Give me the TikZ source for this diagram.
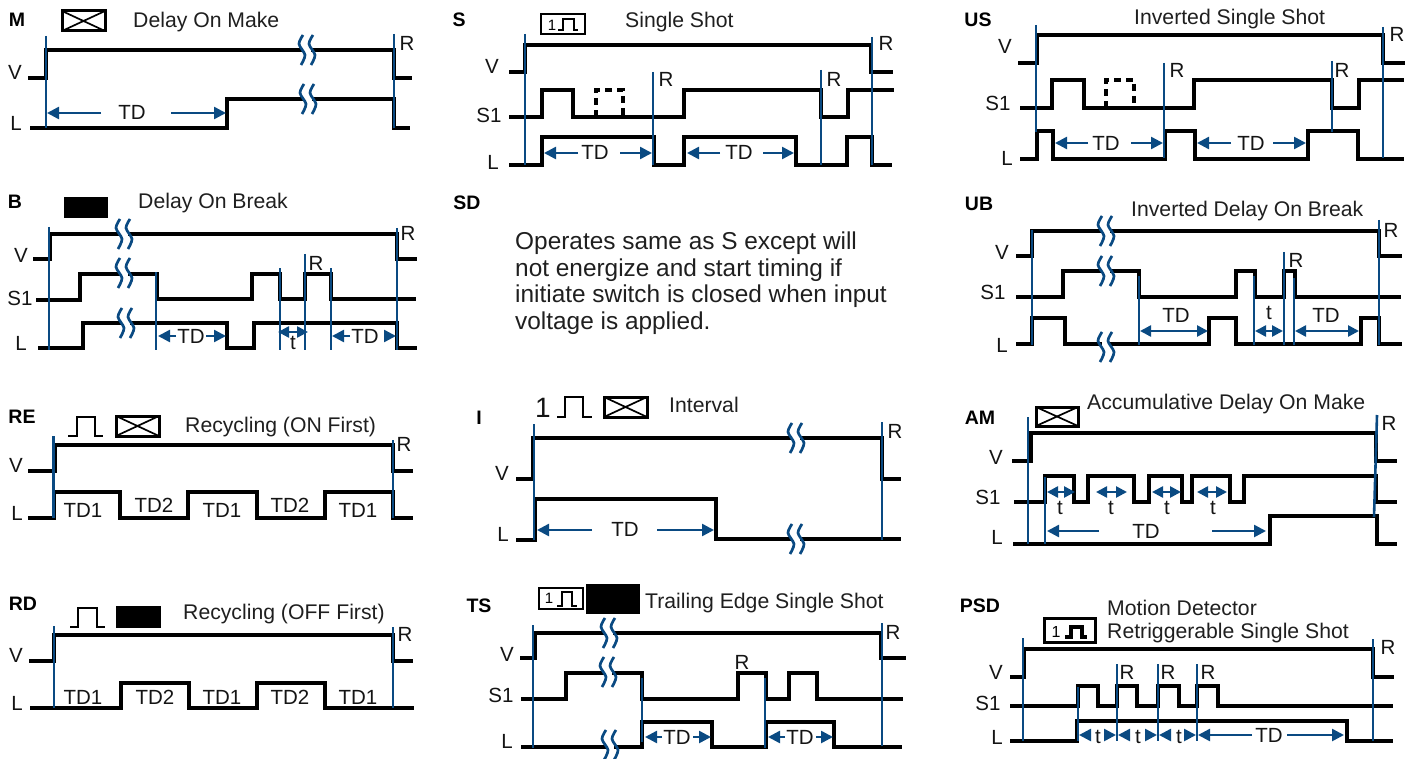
\documentclass[tikz,border=0pt]{standalone}
\usepackage{fontspec}
\setmainfont{Liberation Sans}
\usetikzlibrary{arrows.meta}
\definecolor{relayblue}{HTML}{0A4A82}
\tikzset{
  sig/.style={line width=4.6pt,black,miter limit=10},
  dashsig/.style={line width=4pt,black,dash pattern=on 7pt off 5pt},
  bl/.style={line width=2.6pt,relayblue},
  dimr/.style={line width=2.5pt,relayblue,-{Triangle[length=12pt,width=12pt]}},
  dimb/.style={line width=2.5pt,relayblue,{Triangle[length=11pt,width=11pt]}-{Triangle[length=11pt,width=11pt]}},
  wave/.style={line width=2.7pt,relayblue},
  lbl/.style={font=\fontsize{20.5}{24}\selectfont,inner sep=0pt,anchor=center,text=black!92},
  ttl/.style={font=\fontsize{21.2}{24}\selectfont,inner sep=0pt,anchor=west,text=black!88,yshift=-2pt},
  code/.style={font=\fontsize{19.5}{23}\bfseries\selectfont,inner sep=0pt,anchor=center},
  boxx/.style={line width=3pt,black},
  xline/.style={line width=1.7pt,black},
  boxs/.style={line width=2pt,black},
  pls/.style={line width=2.5pt,black},
  plsthin/.style={line width=2pt,black},
  one/.style={font=\fontsize{15}{18}\selectfont,inner sep=0pt,anchor=center},
}
\newcommand\brk[2]{%
  \fill[white] (#1-4,#2-6) rectangle (#1+4,#2+6);
  \foreach \d in {-5,5}{\draw[wave] plot[smooth] coordinates {(#1+\d+1,#2-15) (#1+\d-3,#2-6) (#1+\d+3,#2+5) (#1+\d-1,#2+15)};}
}
\newcommand\xbox[4]{%
  \draw[boxx] (#1,#3) rectangle (#2,#4);
  \draw[xline] (#1,#3) -- (#2,#4) (#1,#4) -- (#2,#3);
}
\begin{document}
\begin{tikzpicture}[x=1pt,y=-1pt]
\useasboundingbox (0,0) rectangle (1415,759);
% ---------- M
\node[code] (mt) at (17,20) {M};
\xbox{62}{105}{11}{31}
\node[ttl] (mn) at (133,20) {Delay On Make};
\draw[sig] (28,78) -- (46,78) -- (46,50) -- (394,50) -- (394,78) -- (412,78);
\draw[sig] (30,128) -- (227,128) -- (227,99) -- (394,99) -- (394,128) -- (410,128);
\draw[bl] (46,36) -- (46,128);
\draw[bl] (394,34) -- (394,128);
\draw[dimr] (101,113) -- (47,113);
\draw[dimr] (171,113) -- (226,113);
\brk{307}{50}\brk{308}{99}
\node[lbl] (mV) at (15,72) {V};
\node[lbl] (mL) at (16,123) {L};
\node[lbl] (mTD) at (132,112) {TD};
\node[lbl] (mR) at (407,43) {R};
% ---------- B
\node[code] (bt) at (15,202) {B};
\fill[black] (64,197) rectangle (108,218);
\node[ttl] (bn) at (138,201) {Delay On Break};
\draw[sig] (33,259) -- (50,259) -- (50,234) -- (397,234) -- (397,259) -- (417,259);
\draw[sig] (36,300) -- (80,300) -- (80,274) -- (157,274) -- (157,299) -- (252,299) -- (252,274) -- (280,274) -- (280,299) -- (305,299) -- (305,274) -- (331,274) -- (331,299) -- (416,299);
\draw[sig] (38,348) -- (83,348) -- (83,323) -- (227,323) -- (227,348) -- (254,348) -- (254,323) -- (397,323) -- (397,348) -- (417,348);
\draw[bl] (49,227) -- (49,350);
\draw[bl] (397,228) -- (397,350);
\draw[bl] (156,272) -- (156,350);
\draw[bl] (280,268) -- (280,350);
\draw[bl] (305,254) -- (305,350);
\draw[bl] (331,268) -- (331,350);
\draw[dimr] (176,336) -- (158,336);
\draw[dimr] (206,336) -- (226,336);
\draw[dimb] (278,332) -- (308,332);
\draw[dimr] (350,336) -- (332,336);
\draw[dimr] (384,336) -- (396,336);
\brk{124}{234}\brk{124}{273}\brk{126}{323}
\node[lbl] (bV) at (21,255) {V};
\node[lbl] (bS) at (20,298) {S1};
\node[lbl] (bL) at (21,343) {L};
\node[lbl] (bTD) at (191,336) {TD};
\node[lbl] (bt1) at (293,343) {t};
\node[lbl] (bTD2) at (365,336) {TD};
\node[lbl] (bR) at (316,263) {R};
\node[lbl] (bR2) at (408,233) {R};
% ---------- S
\node[code] (st) at (459,20) {S};
\draw[boxs] (541,14) rectangle (585,34);
\node[one] (s1b) at (552,25) {1};
\draw[pls] (558,30) -- (563,30) -- (563,19) -- (574,19) -- (574,30) -- (578,30);
\node[ttl] (sn) at (625,20) {Single Shot};
\draw[sig] (509,72) -- (525,72) -- (525,45) -- (871,45) -- (871,72) -- (893,72);
\draw[sig] (509,117) -- (542,117) -- (542,90) -- (573,90) -- (573,117) -- (684,117) -- (684,90) -- (821,90) -- (821,117) -- (848,117) -- (848,90) -- (894,90);
\draw[dashsig] (596,117) -- (596,90) -- (623,90) -- (623,117);
\draw[sig] (509,165) -- (542,165) -- (542,137) -- (654,137) -- (654,165) -- (684,165) -- (684,137) -- (796,137) -- (796,165) -- (847,165) -- (847,137) -- (872,137) -- (872,165) -- (892,165);
\draw[bl] (525,34) -- (525,165);
\draw[bl] (872,37) -- (872,165);
\draw[bl] (653,72) -- (653,165);
\draw[bl] (821,70) -- (821,165);
\draw[dimr] (578,153) -- (544,153);
\draw[dimr] (620,153) -- (652,153);
\draw[dimr] (720,153) -- (687,153);
\draw[dimr] (763,153) -- (794,153);
\node[lbl] (sV) at (492,66) {V};
\node[lbl] (sS) at (489,115) {S1};
\node[lbl] (sL) at (493,162) {L};
\node[lbl] (sTD) at (595,152) {TD};
\node[lbl] (sTD2) at (739,152) {TD};
\node[lbl] (sR) at (886,43) {R};
\node[lbl] (sR2) at (666,79) {R};
\node[lbl] (sR3) at (834,79) {R};
% ---------- SD
\node[code] (sdt) at (467,203) {SD};
\node[inner sep=0pt,anchor=north west,align=left,font=\fontsize{24.4}{26.4}\selectfont,text=black!88] (sdp) at (515,232) {Operates same as S except will\\not energize and start timing if\\initiate switch is closed when input\\voltage is applied.};
% ---------- US
\node[code] (ust) at (978,20) {US};
\node[ttl] (usn) at (1134,17) {Inverted Single Shot};
\draw[sig] (1018,63) -- (1037,63) -- (1037,35) -- (1383,35) -- (1383,63) -- (1405,63);
\draw[sig] (1020,108) -- (1052,108) -- (1052,80) -- (1084,80) -- (1084,108) -- (1194,108) -- (1194,80) -- (1332,80) -- (1332,108) -- (1359,108) -- (1359,80) -- (1404,80);
\draw[dashsig] (1106,108) -- (1106,80) -- (1134,80) -- (1134,108);
\draw[sig] (1020,159) -- (1037,159) -- (1037,131) -- (1053,131) -- (1053,159) -- (1165,159) -- (1165,131) -- (1195,131) -- (1195,159) -- (1308,159) -- (1308,131) -- (1358,131) -- (1358,159) -- (1404,159);
\draw[bl] (1036,25) -- (1036,132);
\draw[bl] (1383,27) -- (1383,158);
\draw[bl] (1164,63) -- (1164,158);
\draw[bl] (1332,61) -- (1332,132);
\draw[dimr] (1088,143) -- (1055,143);
\draw[dimr] (1131,143) -- (1163,143);
\draw[dimr] (1231,143) -- (1197,143);
\draw[dimr] (1273,143) -- (1306,143);
\node[lbl] (usV) at (1005,46) {V};
\node[lbl] (usS) at (998,103) {S1};
\node[lbl] (usL) at (1007,158) {L};
\node[lbl] (usTD) at (1106,143) {TD};
\node[lbl] (usTD2) at (1251,143) {TD};
\node[lbl] (usR) at (1397,34) {R};
\node[lbl] (usR2) at (1177,70) {R};
\node[lbl] (usR3) at (1342,70) {R};
% ---------- UB
\node[code] (ubt) at (979,204) {UB};
\node[ttl] (ubn) at (1131,209) {Inverted Delay On Break};
\draw[sig] (1016,256) -- (1032,256) -- (1032,231) -- (1379,231) -- (1379,256) -- (1402,256);
\draw[sig] (1016,297) -- (1063,297) -- (1063,271) -- (1139,271) -- (1139,297) -- (1236,297) -- (1236,271) -- (1255,271) -- (1255,297) -- (1284,297) -- (1284,271) -- (1295,271) -- (1295,297) -- (1401,297);
\draw[sig] (1016,344) -- (1032,344) -- (1032,318) -- (1065,318) -- (1065,344) -- (1209,344) -- (1209,318) -- (1236,318) -- (1236,344) -- (1361,344) -- (1361,318) -- (1379,318) -- (1379,344) -- (1402,344);
\draw[bl] (1032,230) -- (1032,345);
\draw[bl] (1379,220) -- (1379,345);
\draw[bl] (1139,276) -- (1139,345);
\draw[bl] (1254,276) -- (1254,345);
\draw[bl] (1284,252) -- (1284,345);
\draw[bl] (1294,278) -- (1294,345);
\draw[dimb] (1140,331) -- (1208,331);
\draw[dimb] (1255,331) -- (1283,331);
\draw[dimb] (1295,331) -- (1359,331);
\brk{1106}{231}\brk{1106}{271}\brk{1106}{347}
\node[lbl] (ubV) at (1002,252) {V};
\node[lbl] (ubS) at (993,292) {S1};
\node[lbl] (ubL) at (1002,345) {L};
\node[lbl] (ubTD) at (1176,315) {TD};
\node[lbl] (ubt1) at (1269,313) {t};
\node[lbl] (ubTD2) at (1326,315) {TD};
\node[lbl] (ubR) at (1391,230) {R};
\node[lbl] (ubR2) at (1296,260) {R};
% ---------- RE
\node[code] (ret) at (22,417) {RE};
\draw[plsthin] (68,436) -- (77,436) -- (77,417) -- (95,417) -- (95,436) -- (103,436);
\xbox{116}{159}{416}{436}
\node[ttl] (ren) at (185,425) {Recycling (ON First)};
\draw[sig] (28,471) -- (55,471) -- (55,445) -- (393,445) -- (393,471) -- (413,471);
\draw[sig] (28,518) -- (54,518) -- (54,492) -- (120,492) -- (120,518) -- (188,518) -- (188,492) -- (257,492) -- (257,518) -- (325,518) -- (325,492) -- (393,492) -- (393,518) -- (413,518);
\draw[bl] (53.5,436) -- (53.5,518);
\draw[bl] (393,440) -- (393,518);
\node[lbl] (reV) at (16,465) {V};
\node[lbl] (reL) at (17,513) {L};
\node[lbl] (re1) at (83,510) {TD1};
\node[lbl] (re2) at (154,505) {TD2};
\node[lbl] (re3) at (222,510) {TD1};
\node[lbl] (re4) at (290,505) {TD2};
\node[lbl] (re5) at (358,510) {TD1};
\node[lbl] (reR) at (404,444) {R};
% ---------- RD
\node[code] (rdt) at (23,604) {RD};
\draw[plsthin] (70,627) -- (78,627) -- (78,608) -- (97,608) -- (97,627) -- (105,627);
\fill[black] (116,606) rectangle (161,628);
\node[ttl] (rdn) at (183,612) {Recycling (OFF First)};
\draw[sig] (29,661) -- (54,661) -- (54,635) -- (393,635) -- (393,661) -- (413,661);
\draw[sig] (30,708) -- (121,708) -- (121,683) -- (189,683) -- (189,708) -- (257,708) -- (257,683) -- (325,683) -- (325,708) -- (414,708);
\draw[bl] (54,626) -- (54,708);
\draw[bl] (393,627) -- (393,708);
\node[lbl] (rdV) at (16,655) {V};
\node[lbl] (rdL) at (17,703) {L};
\node[lbl] (rd1) at (83,697) {TD1};
\node[lbl] (rd2) at (155,697) {TD2};
\node[lbl] (rd3) at (222,697) {TD1};
\node[lbl] (rd4) at (290,697) {TD2};
\node[lbl] (rd5) at (358,697) {TD1};
\node[lbl] (rdR) at (405,634) {R};
% ---------- I
\node[code] (it) at (479,418) {I};
\node[lbl,font=\fontsize{28}{30}\selectfont] (i1) at (543,408) {1};
\draw[plsthin] (557,417) -- (565,417) -- (565,397) -- (583,397) -- (583,417) -- (592,417);
\xbox{604}{647}{397}{417}
\node[ttl] (in) at (669,403) {Interval};
\draw[sig] (516,479) -- (533,479) -- (533,438) -- (882,438) -- (882,479) -- (901,479);
\draw[sig] (516,540) -- (535,540) -- (535,499) -- (716,499) -- (716,539) -- (901,539);
\draw[bl] (534,424) -- (534,540);
\draw[bl] (882,422) -- (882,540);
\draw[dimr] (592,530) -- (537,530);
\draw[dimr] (657,530) -- (714,530);
\brk{796}{438}\brk{796}{539}
\node[lbl] (iV) at (502,473) {V};
\node[lbl] (iL) at (503,534) {L};
\node[lbl] (iTD) at (625,529) {TD};
\node[lbl] (iR) at (895,431) {R};
% ---------- TS
\node[code] (tst) at (479,606) {TS};
\draw[boxs] (539,588) rectangle (583,609);
\node[one] (ts1) at (549,598) {1};
\draw[pls] (557,606) -- (562,606) -- (562,592) -- (572,592) -- (572,606) -- (577,606);
\fill[black] (586,584) rectangle (640,614);
\node[ttl] (tsn) at (645,601) {Trailing Edge Single Shot};
\draw[sig] (520,658) -- (535,658) -- (535,633) -- (881,633) -- (881,658) -- (906,658);
\draw[sig] (521,699) -- (566,699) -- (566,673) -- (642,673) -- (642,699) -- (738,699) -- (738,673) -- (766,673) -- (766,699) -- (789,699) -- (789,673) -- (817,673) -- (817,699) -- (903,699);
\draw[sig] (521,747) -- (642,747) -- (642,722) -- (712,722) -- (712,747) -- (766,747) -- (766,722) -- (834,722) -- (834,747) -- (902,747);
\draw[bl] (533,625) -- (533,748);
\draw[bl] (882,623) -- (882,746);
\draw[bl] (642,678) -- (642,742);
\draw[bl] (765,678) -- (765,748);
\draw[dimr] (662,737) -- (645,737);
\draw[dimr] (693,737) -- (711,737);
\draw[dimr] (785,737) -- (768,737);
\draw[dimr] (816,737) -- (833,737);
\brk{609}{633}\brk{608}{672}\brk{610}{745}
\node[lbl] (tsV) at (507,654) {V};
\node[lbl] (tsS) at (501,695) {S1};
\node[lbl] (tsL) at (507,741) {L};
\node[lbl] (tsTD) at (677,737) {TD};
\node[lbl] (tsTD2) at (800,737) {TD};
\node[lbl] (tsR) at (742,662) {R};
\node[lbl] (tsR2) at (893,632) {R};
% ---------- AM
\node[code] (amt) at (980,418) {AM};
\xbox{1036}{1078}{407}{426}
\node[ttl] (amn) at (1087,402) {Accumulative Delay On Make};
\draw[sig] (1012,461) -- (1031,461) -- (1031,433) -- (1376,433) -- (1376,461) -- (1397,461);
\draw[sig] (1014,502) -- (1045,502) -- (1045,476) -- (1074,476) -- (1074,502) -- (1088,502) -- (1088,476) -- (1134,476) -- (1134,502) -- (1149,502) -- (1149,476) -- (1182,476) -- (1182,502) -- (1192,502) -- (1192,476) -- (1230,476) -- (1230,502) -- (1244,502) -- (1244,476) -- (1376,476) -- (1376,502) -- (1397,502);
\draw[sig] (1013,544) -- (1270,544) -- (1270,516) -- (1377,516) -- (1377,544) -- (1397,544);
\draw[bl] (1028,417) -- (1028,544);
\draw[bl] (1045,477) -- (1045,544);
\draw[bl] (1377,415) -- (1374,517);
\draw[dimb] (1047,492) -- (1075,492);
\draw[dimb] (1096,492) -- (1127,492);
\draw[dimb] (1152,492) -- (1181,492);
\draw[dimb] (1197,492) -- (1227,492);
\draw[dimr] (1099,531) -- (1047,531);
\draw[dimr] (1212,531) -- (1266,531);
\node[lbl] (amV) at (996,457) {V};
\node[lbl] (amS) at (988,497) {S1};
\node[lbl] (amL) at (997,537) {L};
\node[lbl] (amt1) at (1060,508) {t};
\node[lbl] (amt2) at (1111,508) {t};
\node[lbl] (amt3) at (1167,508) {t};
\node[lbl] (amt4) at (1213,508) {t};
\node[lbl] (amTD) at (1146,531) {TD};
\node[lbl] (amR) at (1389,423) {R};
% ---------- PSD
\node[code] (pst) at (980,606) {PSD};
\node[ttl] (psn) at (1107,606) {Motion Detector};
\node[ttl] (psn2) at (1107,631) {Retriggerable Single Shot};
\draw[boxx] (1044,618) rectangle (1095,642);
\node[one,font=\fontsize{16}{18}\selectfont] (ps1) at (1056,632) {1};
\draw[line width=3.2pt] (1065,637) -- (1071,637) -- (1071,627) -- (1082,627) -- (1082,637) -- (1087,637);
\draw[sig] (1010,677) -- (1024,677) -- (1024,649) -- (1373,649) -- (1373,677) -- (1394,677);
\draw[sig] (1010,706) -- (1078,706) -- (1078,686) -- (1098,686) -- (1098,706) -- (1117,706) -- (1117,686) -- (1137,686) -- (1137,706) -- (1158,706) -- (1158,686) -- (1179,686) -- (1179,706) -- (1197,706) -- (1197,686) -- (1218,686) -- (1218,706) -- (1393,706);
\draw[sig] (1010,741) -- (1077,741) -- (1077,721) -- (1347,721) -- (1347,741) -- (1393,741);
\draw[bl] (1023,638) -- (1023,741);
\draw[bl] (1373,639) -- (1373,741);
\draw[bl] (1078,687) -- (1078,741);
\draw[bl] (1117,664) -- (1117,741);
\draw[bl] (1158,664) -- (1158,741);
\draw[bl] (1197,664) -- (1197,741);
\draw[dimr] (1089,735) -- (1079,735);
\draw[dimr] (1107,735) -- (1116,735);
\draw[dimr] (1128,735) -- (1118,735);
\draw[dimr] (1148,735) -- (1157,735);
\draw[dimr] (1170,735) -- (1159,735);
\draw[dimr] (1187,735) -- (1196,735);
\draw[dimr] (1252,735) -- (1198,735);
\draw[dimr] (1287,735) -- (1344,735);
\node[lbl] (psV) at (996,672) {V};
\node[lbl] (psS) at (988,703) {S1};
\node[lbl] (psL) at (997,737) {L};
\node[lbl] (pst1) at (1098,737) {t};
\node[lbl] (pst2) at (1138,737) {t};
\node[lbl] (pst3) at (1179,737) {t};
\node[lbl] (psTD) at (1269,735) {TD};
\node[lbl] (psR) at (1388,647) {R};
\node[lbl] (psR2) at (1127,672) {R};
\node[lbl] (psR3) at (1168,672) {R};
\node[lbl] (psR4) at (1208,672) {R};
\end{tikzpicture}
\end{document}
